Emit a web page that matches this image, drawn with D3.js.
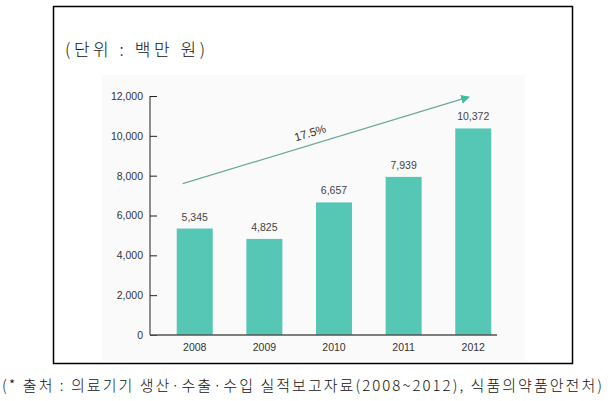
<!DOCTYPE html>
<html><head><meta charset="utf-8">
<script src="https://cdn.jsdelivr.net/npm/d3@7"></script>
<style>
body{margin:0;background:#fff;}
svg{display:block;}
</style></head><body>
<svg id="c" width="616" height="401"></svg>
<script>
const years = ["2008","2009","2010","2011","2012"];
const values = [5345, 4825, 6657, 7939, 10372];
const yTicks = [0, 2000, 4000, 6000, 8000, 10000, 12000];
const unitLabel = "(단위 : 백만 원)";
const growthLabel = "17.5%";
const sourceNote = "(* 출처 : 의료기기 생산·수출·수입 실적보고자료(2008~2012), 식품의약품안전처)";

const svg = d3.select("#c");
const serif = "'Noto Sans CJK KR','Noto Sans',sans-serif";
const sans = "'Liberation Sans',Arial,sans-serif";

// outer frame
svg.append("rect").attr("x",53.5).attr("y",6.5).attr("width",519).attr("height",357)
  .attr("fill","#fff").attr("stroke","#000").attr("stroke-width",1.5);
// faint chart panel
svg.append("rect").attr("x",102).attr("y",75).attr("width",423).attr("height",286).attr("fill","#fafafa");

svg.append("text").attr("x",65).attr("y",56).attr("font-family",serif).attr("font-size",17)
  .attr("font-weight",300).attr("fill","#111")
  .attr("textLength",140).attr("lengthAdjust","spacing").text(unitLabel);

const y = d3.scaleLinear().domain([0,12000]).range([335,96]);
const x = d3.scaleBand().domain(years).range([150,518]).paddingInner(0.483).paddingOuter(0.384);

// bars
svg.selectAll("rect.bar").data(values).join("rect").attr("class","bar")
  .attr("x",(d,i)=>x(years[i])).attr("width",x.bandwidth())
  .attr("y",d=>y(d)).attr("height",d=>y(0)-y(d)).attr("fill","#56c7b4");

// value labels
svg.selectAll("text.val").data(values).join("text").attr("class","val")
  .attr("x",(d,i)=>x(years[i])+x.bandwidth()/2).attr("y",d=>y(d)-8)
  .attr("text-anchor","middle").attr("font-family",sans).attr("font-size",10.5)
  .attr("fill","#444").text(d=>d3.format(",")(d));

// y axis
const yAxis = d3.axisRight(y).tickValues(yTicks).tickSize(7).tickFormat(d3.format(","));
const gy = svg.append("g").attr("transform","translate(150,0)").call(yAxis);
gy.select(".domain").remove();
gy.selectAll(".tick line").attr("stroke","#222").attr("stroke-width",1);
gy.selectAll(".tick text").attr("x",-7).attr("text-anchor","end")
  .attr("font-family",sans).attr("font-size",10.5).attr("fill","#333");
svg.append("line").attr("x1",150).attr("x2",150).attr("y1",96).attr("y2",335).attr("stroke","#222").attr("stroke-width",1);

// x axis
const xAxis = d3.axisBottom(x).tickSize(0).tickPadding(9);
const gx = svg.append("g").attr("transform","translate(0,335)").call(xAxis);
gx.select(".domain").remove();
gx.selectAll(".tick text").attr("font-family",sans).attr("font-size",10.5).attr("fill","#333");
svg.append("line").attr("x1",150).attr("x2",497).attr("y1",335).attr("y2",335).attr("stroke","#555").attr("stroke-width",1.3);

// growth arrow
const defs = svg.append("defs");
defs.append("marker").attr("id","ah").attr("viewBox","0 0 10 10").attr("refX",8).attr("refY",5)
  .attr("markerWidth",9).attr("markerHeight",9).attr("orient","auto").attr("markerUnits","userSpaceOnUse")
  .append("path").attr("d","M0,0 L10,5 L0,10 z").attr("fill","#3dbf9f");
const ax0 = x(years[0])+6, ay0 = y(7600);
const ax1 = x(years[4])+x.bandwidth()/2-5, ay1 = y(11940);
svg.append("line").attr("x1",ax0).attr("y1",ay0).attr("x2",ax1).attr("y2",ay1)
  .attr("stroke","#6aa898").attr("stroke-width",1.2).attr("marker-end","url(#ah)");
const ang = Math.atan2(ay1-ay0, ax1-ax0)*180/Math.PI;
const mx = ax0 + (ax1-ax0)*0.45, my = ay0 + (ay1-ay0)*0.45 - 8;
svg.append("text").attr("transform",`translate(${mx},${my}) rotate(${ang})`)
  .attr("text-anchor","middle").attr("font-family",sans).attr("font-size",11.5).attr("fill","#333")
  .text(growthLabel);

// source note
svg.append("text").attr("x",2).attr("y",391).attr("font-family",serif).attr("font-size",15)
  .attr("font-weight",300).attr("fill","#111")
  .attr("textLength",600).attr("lengthAdjust","spacing").text(sourceNote);
</script></body></html>
